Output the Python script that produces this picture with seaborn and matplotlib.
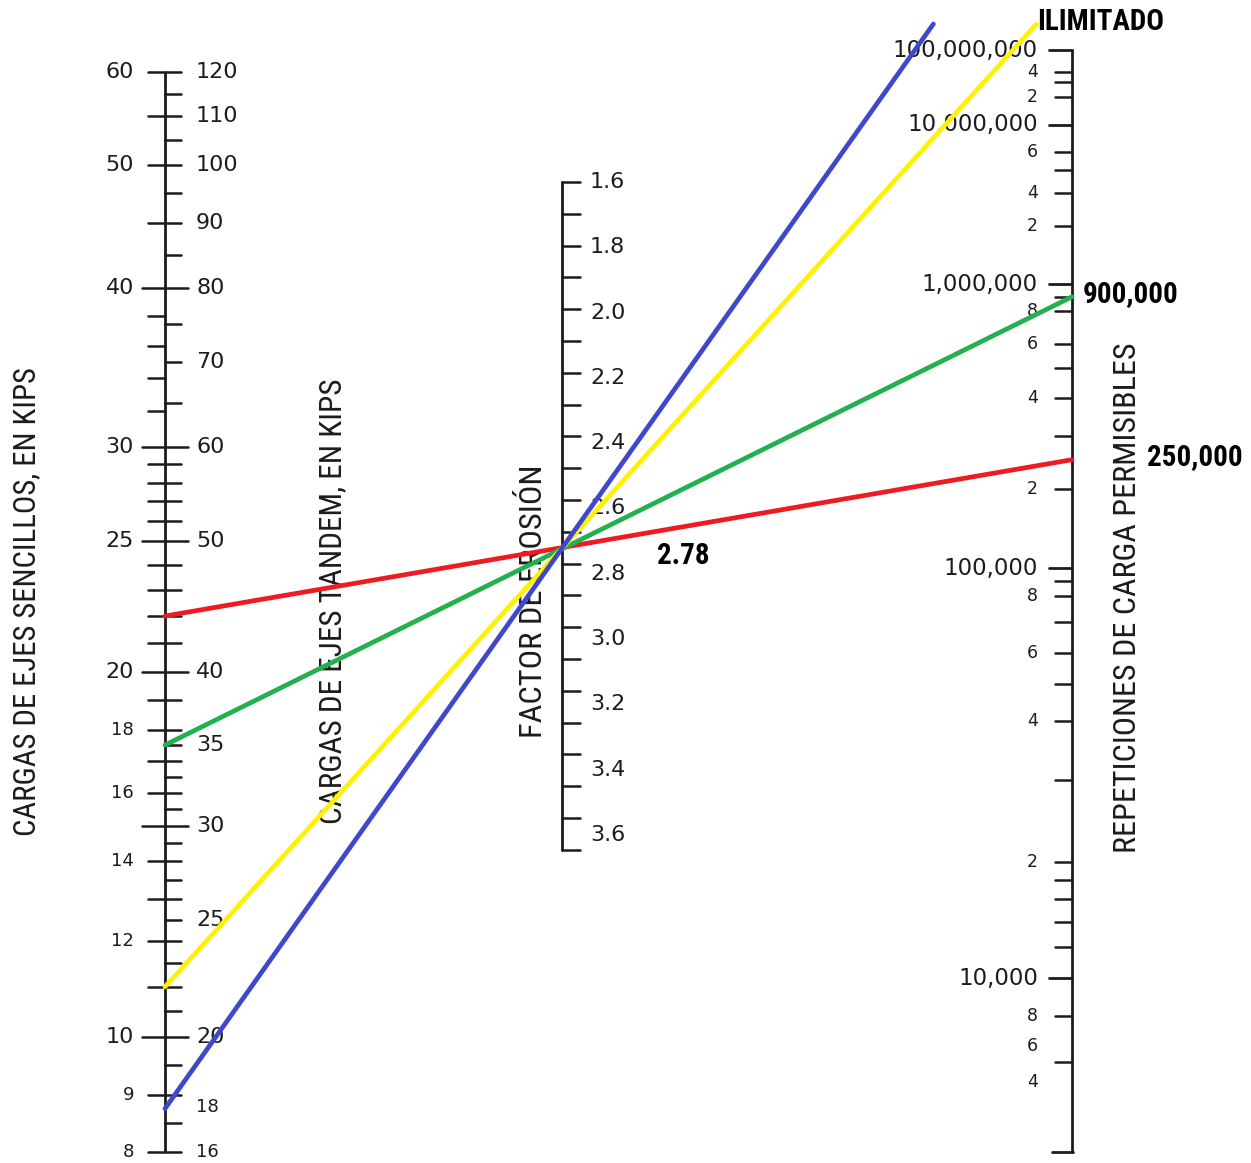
import numpy as np
import pandas as pd
import matplotlib
matplotlib.use("Agg")
import matplotlib.pyplot as plt
import seaborn as sns
from matplotlib import font_manager

# ------------------------------------------------------------------ data
# single-axle load scale (kips)
single_labels = [60, 50, 40, 30, 25, 20, 18, 16, 14, 12, 10, 9, 8]
single_ticks = [60, 55, 50, 45, 40, 38, 36, 34, 32, 30, 29, 28, 27, 26, 25, 24, 23, 22,
                21, 20, 19, 18, 17, 16, 15, 14, 13, 12, 11, 10, 9, 8]
single_long = [40, 30, 25, 20, 15, 10]
# tandem-axle load scale (kips)
tandem_labels = [120, 110, 100, 90, 80, 70, 60, 50, 40, 35, 30, 25, 20, 18, 16]
tandem_ticks = [120, 115, 110, 105, 100, 95, 90, 85, 80, 75, 70, 65, 60, 58, 56, 54, 52,
                50, 48, 46, 44, 42, 40, 38, 36, 35, 34, 33, 32, 31, 30, 29, 28, 27, 26,
                25, 24, 23, 22, 21, 20, 19, 18, 17, 16]
# erosion factor scale
erosion_labels = [1.6, 1.8, 2.0, 2.2, 2.4, 2.6, 2.8, 3.0, 3.2, 3.4, 3.6]
erosion_ticks = [1.6, 1.7, 1.8, 1.9, 2.0, 2.1, 2.2, 2.3, 2.4, 2.5, 2.6, 2.7, 2.8, 2.9,
                 3.0, 3.1, 3.2, 3.3, 3.4, 3.5, 3.6, 3.7]
# allowable load repetitions scale
rep_major = [1e8, 1e7, 1e6, 1e5, 1e4]
rep_major_text = ["100,000,000", "10,000,000", "1,000,000", "100,000", "10,000"]
rep_minor = [4e7, 2e7, 6e6, 4e6, 2e6, 8e5, 6e5, 4e5, 2e5, 8e4, 6e4, 4e4, 2e4, 8e3, 6e3, 4e3]
rep_minor_text = ["4", "2", "6", "4", "2", "8", "6", "4", "2", "8", "6", "4", "2", "8", "6", "4"]
rep_minor_ticked = [4e7, 3e7, 2e7, 6e6, 5e6, 4e6, 2e6, 9e5, 8e5, 6e5, 5e5, 4e5, 3e5, 2e5,
                    9e4, 8e4, 7e4, 6e4, 5e4, 4e4, 3e4, 2e4, 1.8e4, 1.6e4, 1.4e4, 1.2e4,
                    8e3, 5e3]

# example lines (load in single-axle-equivalent kips)
line_names = ["rojo", "verde", "amarillo", "azul"]
line_loads = [22, 17.5, 11, 8.75]
line_reps = [250000, 900000, None, None]          # None -> unlimited
line_colors = ["#ED1C24", "#22B14C", "#FFF200", "#3F48CC"]
rep_texts = ["250,000", "900,000", "ILIMITADO"]
erosion_value = 2.78
erosion_text = "2.78"

titles = ["CARGAS DE EJES SENCILLOS, EN KIPS", "CARGAS DE EJES TANDEM, EN KIPS",
          "FACTOR DE EROSIÓN", "REPETICIONES DE CARGA PERMISIBLES"]

# ------------------------------------------------------------------ scale layout (nomograph calibration)
X_LEFT, X_MID, X_RIGHT = 165, 562, 1072
_left_cal_v = [8, 9, 10, 12, 14, 16, 18, 20, 25, 30, 40, 50, 60]
_left_cal_y = [1152, 1095, 1037, 941, 861, 793, 730, 672, 541, 447, 288, 165, 72]
_rep_cal_v = [4e3, 6e3, 8e3, 1e4, 2e4, 4e4, 6e4, 8e4, 1e5, 2e5, 4e5, 6e5, 8e5, 1e6,
              2e6, 4e6, 6e6, 1e7, 2e7, 4e7, 1e8]
_rep_cal_y = [1082, 1046, 1016, 978, 862, 721, 653, 596, 568, 489, 398, 344, 311, 284,
              226, 193, 152, 125, 97, 72, 50]


def y_single(v):
    return np.interp(np.log10(v), np.log10(_left_cal_v), _left_cal_y)


def y_tandem(v):
    return y_single(np.asarray(v) / 2.0)


def y_eros(v):
    return 182 + (np.asarray(v) - 1.6) * 318.0


def y_rep(v):
    return np.interp(np.log10(v), np.log10(_rep_cal_v), _rep_cal_y)


# ------------------------------------------------------------------ fonts
sns.set_theme(style="white")


def pick_narrow():
    fl = font_manager.fontManager.ttflist
    names = {f.name for f in fl}
    for n in ["Liberation Sans Narrow", "Arial Narrow", "Roboto Condensed",
              "DejaVu Sans Condensed", "Noto Sans Condensed", "Open Sans Condensed"]:
        if n in names:
            return n, "normal", 1.0
    for fam in ["Noto Sans", "Open Sans", "Roboto", "Inter", "DejaVu Sans"]:
        for f in fl:
            if f.name == fam and str(f.stretch) in ("condensed", "semi-condensed",
                                                     "extra-condensed"):
                return fam, "condensed", 0.95
    return "Liberation Sans", "normal", 0.82


NARROW, STRETCH, NSCALE = pick_narrow()
plt.rcParams["font.family"] = ["DejaVu Sans"]

INK = "#1c1c1c"
LW_AX, LW_TK = 2.0, 1.8
fig = plt.figure(figsize=(12.51, 11.63), dpi=100)
ax = fig.add_axes([0, 0, 1, 1])

# ------------------------------------------------------------------ colored lines (geometry)
y_l = [float(y_single(v)) for v in line_loads]
piv = []
for i, r in enumerate(line_reps):
    if r is not None:
        yr = float(y_rep(r))
        piv.append(y_l[i] + (yr - y_l[i]) * (X_MID - X_LEFT) / (X_RIGHT - X_LEFT))
pivot_y = float(np.mean(piv))
Y_TOP = 24

rows = []
ends = {}
for name, load_y, r in zip(line_names, y_l, line_reps):
    if r is not None:
        xe, ye = X_RIGHT, float(y_rep(r))
    else:
        slope = (pivot_y - load_y) / (X_MID - X_LEFT)
        ye = Y_TOP
        xe = X_MID + (ye - pivot_y) / slope
    ends[name] = (xe, ye)
    rows.append({"serie": name, "x": X_LEFT, "y": load_y})
    rows.append({"serie": name, "x": xe, "y": ye})
df = pd.DataFrame(rows)

# ------------------------------------------------------------------ left scale
ax.plot([X_LEFT, X_LEFT], [72, 1152], color=INK, lw=LW_AX, solid_capstyle="butt")
for v in single_ticks:
    y = y_single(v)
    x0 = 142 if v in single_long else 148
    ax.plot([x0, X_LEFT], [y, y], color=INK, lw=LW_TK)
for v in tandem_ticks:
    y = y_tandem(v)
    x1 = 188 if v / 2 in single_long else 181
    ax.plot([X_LEFT, x1], [y, y], color=INK, lw=LW_TK)
for v in single_labels:
    big = v in (60, 50, 40, 30, 25, 20, 10)
    ax.text(134, y_single(v), str(v), ha="right", va="center",
            fontsize=16 if big else 13, color=INK)
for v in tandem_labels:
    small = v in (18, 16)
    dy = 12 if v == 18 else 0
    ax.text(196, y_tandem(v) + dy, str(v), ha="left", va="center",
            fontsize=13 if small else 16, color=INK)

# ------------------------------------------------------------------ middle scale
ax.plot([X_MID, X_MID], [y_eros(1.6), y_eros(3.7)], color=INK, lw=LW_AX)
for v in erosion_ticks:
    y = y_eros(v)
    ax.plot([X_MID, 580], [y, y], color=INK, lw=LW_TK)
for v in erosion_labels:
    ax.text(590, y_eros(v) + (v - 1.6) * 8.5, f"{v:.1f}", ha="left", va="center",
            fontsize=16, color=INK)

# ------------------------------------------------------------------ right scale
ax.plot([X_RIGHT, X_RIGHT], [y_rep(1e8), 1152], color=INK, lw=LW_AX)
ax.plot([1052, X_RIGHT + 1], [1152, 1152], color=INK, lw=LW_AX)
for v in rep_major:
    y = y_rep(v)
    ax.plot([1049, X_RIGHT], [y, y], color=INK, lw=LW_AX)
for v in rep_minor_ticked:
    y = y_rep(v)
    ax.plot([1055, X_RIGHT], [y, y], color=INK, lw=LW_TK)
for v, t in zip(rep_major, rep_major_text):
    ax.text(1038, y_rep(v), t, ha="right", va="center", fontsize=16.5, color=INK)
for v, t in zip(rep_minor, rep_minor_text):
    ax.text(1038, y_rep(v), t, ha="right", va="center", fontsize=12.5, color=INK)

# ------------------------------------------------------------------ titles
tsize = 22.6 * NSCALE
tkw = dict(rotation=90, ha="center", va="center", color=INK,
           family=[NARROW, "DejaVu Sans"], fontstretch=STRETCH)
ax.text(27, 602, titles[0], fontsize=tsize * 0.98, **tkw)
ax.text(333, 601, titles[1], fontsize=tsize * 0.995, **tkw)
ax.text(533, 601, titles[2], fontsize=tsize * 1.035, **tkw)
ax.text(1127, 598, titles[3], fontsize=tsize * 1.018, **tkw)

# ------------------------------------------------------------------ lines on top
sns.lineplot(data=df, x="x", y="y", hue="serie", hue_order=line_names,
             palette=dict(zip(line_names, line_colors)), units="serie",
             estimator=None, sort=False, linewidth=3.4, legend=False, ax=ax,
             zorder=5, solid_capstyle="round")

# ------------------------------------------------------------------ value annotations
bsize = 21 * NSCALE if NSCALE >= 0.95 else 20
bkw = dict(family=[NARROW, "DejaVu Sans"], fontstretch=STRETCH, fontweight="bold",
           color="black", fontsize=bsize, va="center", zorder=6)
ax.text(X_MID + 95, pivot_y + 8, erosion_text, ha="left", **bkw)
ax.text(ends["amarillo"][0] + 1, 22, rep_texts[2], ha="left", **bkw)
ax.text(X_RIGHT + 11, ends["verde"][1] - 3, rep_texts[1], ha="left", **bkw)
ax.text(X_RIGHT + 75, ends["rojo"][1] - 3, rep_texts[0], ha="left", **bkw)

ax.set_xlim(0, 1251)
ax.set_ylim(1163, 0)
ax.axis("off")
fig.savefig("out.png", dpi=100, facecolor="white")
